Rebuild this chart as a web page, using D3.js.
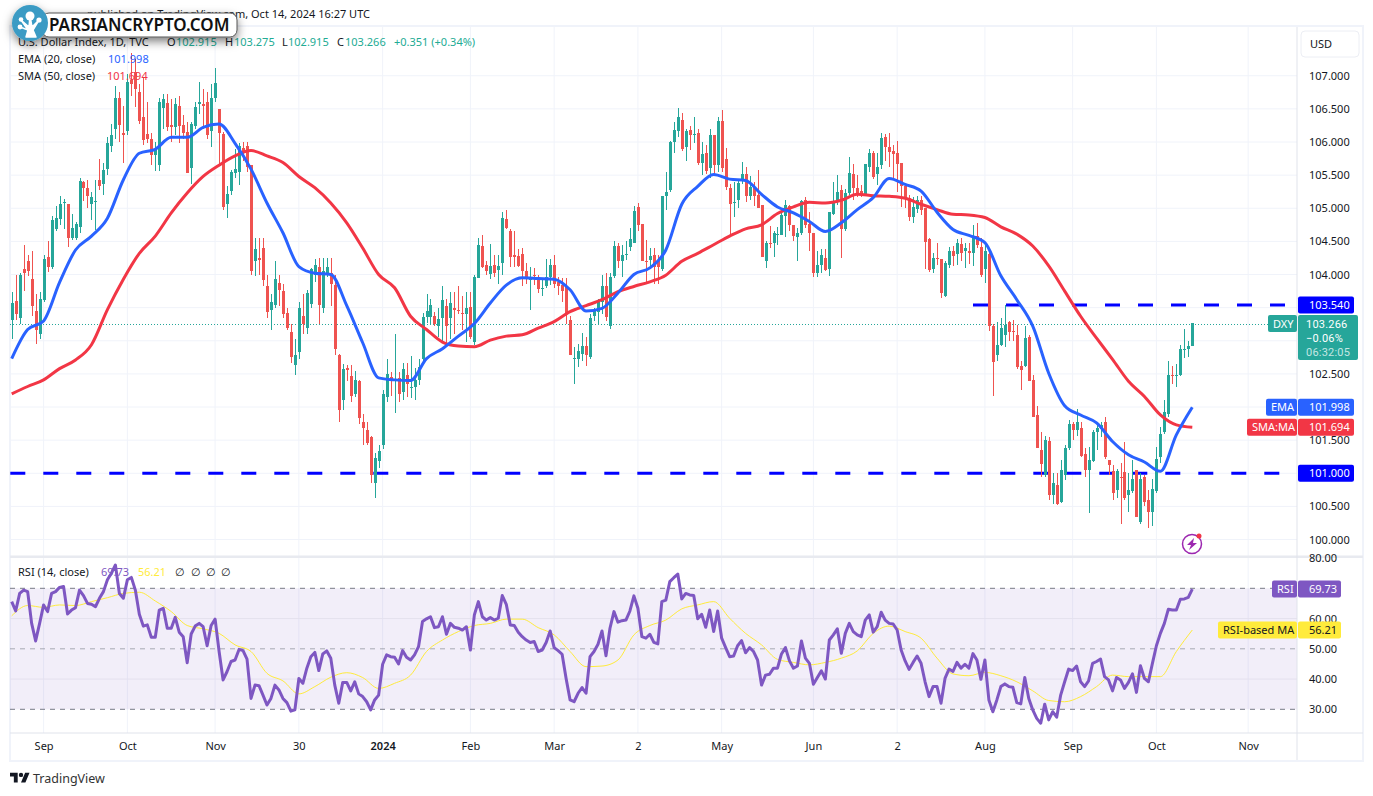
<!DOCTYPE html>
<html>
<head>
<meta charset="utf-8">
<script src="https://cdn.jsdelivr.net/npm/d3@7"></script>
<style>
  html, body { margin: 0; padding: 0; background: #fff; overflow: hidden; }
  text { font-family: "Noto Sans", sans-serif; font-size: 11px; fill: #131722; }
</style>
</head>
<body>
<div id="chart"></div>
<script>
const width = 1373;
const height = 796;

const opens = [
  103.32,103.60,103.35,104.08,104.20,103.93,103.45,103.10,103.62,104.26,
  104.11,104.68,104.84,105.09,105.06,104.55,104.55,104.72,105.39,105.30,
  105.07,105.10,105.43,105.37,105.59,105.94,106.20,106.67,106.14,106.17,
  106.93,107.06,106.76,106.37,106.12,106.04,105.80,105.66,106.52,106.59,
  106.25,106.22,106.55,106.25,106.15,105.61,106.24,106.58,106.58,106.60,
  106.16,106.66,106.50,106.12,105.06,105.26,105.53,105.54,105.91,105.94,
  105.65,104.21,104.25,104.40,103.82,103.46,103.54,103.87,103.75,103.42,
  103.14,102.64,102.83,103.37,103.19,103.55,104.00,104.12,103.50,104.00,
  104.02,103.84,102.78,102.10,102.59,102.47,102.19,102.39,101.77,101.66,
  101.55,100.86,101.19,101.42,102.15,102.45,102.41,102.44,102.22,102.48,
  102.30,102.30,102.41,102.73,103.36,103.36,103.37,103.22,103.34,103.52,
  103.34,103.50,103.47,103.42,103.41,103.51,102.98,103.95,104.43,104.15,
  104.01,104.15,104.07,104.17,104.84,104.66,104.29,104.28,104.31,104.05,
  103.91,103.99,103.96,103.78,103.83,103.96,104.14,103.89,103.84,103.82,
  103.31,102.73,102.72,102.80,102.92,102.75,103.37,103.44,103.58,103.82,
  103.22,103.98,104.43,104.21,104.30,104.42,104.48,105.02,104.76,104.21,
  104.22,104.29,104.21,104.08,105.18,105.27,106.00,106.17,106.33,105.92,
  106.18,106.11,106.13,105.68,105.83,105.61,106.10,105.66,106.31,105.74,
  105.31,105.08,105.13,105.41,105.52,105.19,105.31,105.20,105.05,104.20,
  104.48,104.48,104.60,104.60,104.89,105.04,104.75,104.56,104.63,105.13,
  104.77,104.63,104.03,104.15,104.25,104.09,104.92,105.10,105.28,104.68,
  105.23,105.52,105.30,105.26,105.21,105.63,105.83,105.51,105.66,106.07,
  105.93,105.86,105.84,105.68,105.33,105.16,104.87,104.99,105.12,105.00,
  104.53,104.08,104.25,104.23,103.68,104.15,104.36,104.31,104.46,104.35,
  104.36,104.32,104.58,104.42,104.08,104.31,103.23,102.78,102.94,103.08,
  103.28,103.15,103.09,102.62,102.62,103.06,102.41,101.88,101.35,100.97,
  101.48,100.67,100.82,100.56,100.98,101.38,101.75,101.66,101.68,101.29,
  101.05,101.19,101.63,101.67,101.77,101.20,101.03,100.75,100.94,101.02,
  100.67,100.73,101.05,100.27,100.95,100.60,100.42,100.73,101.24,101.63,
  101.90,102.48,102.47,102.48,102.87,102.87,102.915
];
const highs = [
  103.74,104.00,104.03,104.45,104.30,104.35,103.70,103.74,104.30,104.50,
  104.88,105.03,105.18,105.14,105.06,104.92,104.80,105.45,105.41,105.43,
  105.24,105.43,105.74,105.68,106.07,106.27,106.84,106.76,106.55,107.02,
  107.35,107.25,106.88,106.98,106.60,106.14,106.00,106.66,106.72,106.72,
  106.65,106.66,106.70,106.40,106.30,106.30,106.60,106.91,106.80,106.75,
  106.87,107.11,106.50,106.15,105.33,105.57,105.90,105.98,106.00,106.00,
  105.66,104.55,104.55,104.55,104.00,103.70,104.20,104.00,103.85,103.50,
  103.26,103.03,103.58,103.70,103.77,104.10,104.23,104.25,104.25,104.25,
  104.25,104.00,102.80,102.65,102.63,102.64,102.54,102.41,101.90,101.77,
  101.56,101.30,101.43,102.25,102.72,102.53,103.10,102.53,102.66,102.66,
  102.77,102.59,102.72,103.42,103.70,103.63,103.44,103.50,103.82,103.63,
  103.73,103.73,103.83,103.67,103.74,103.74,104.00,104.55,104.60,104.20,
  104.46,104.30,104.30,104.95,104.97,104.68,104.65,104.38,104.40,104.17,
  104.12,104.10,103.99,103.93,104.24,104.24,104.30,103.96,103.95,103.94,
  103.37,102.91,102.95,103.12,103.05,103.40,103.50,103.63,104.00,104.03,
  104.02,104.50,104.47,104.45,104.50,104.70,105.03,105.08,104.76,104.52,
  104.40,104.40,104.30,105.18,105.55,106.02,106.30,106.52,106.44,106.20,
  106.24,106.38,106.20,106.00,105.96,106.20,106.10,106.37,106.49,105.91,
  105.37,105.40,105.43,105.70,105.63,105.48,105.40,105.58,105.05,104.50,
  104.73,104.65,104.72,105.00,105.13,105.05,104.75,104.70,105.13,105.17,
  104.95,104.63,104.35,104.38,104.38,104.95,105.40,105.50,105.35,105.29,
  105.77,105.67,105.50,105.35,105.67,105.89,105.87,105.84,106.14,106.12,
  106.14,105.96,106.02,105.68,105.33,105.20,105.17,105.18,105.18,105.00,
  104.55,104.33,104.48,104.23,104.20,104.42,104.43,104.53,104.55,104.48,
  104.47,104.75,104.78,104.55,104.45,104.32,103.25,103.28,103.34,103.54,
  103.30,103.31,103.24,102.70,103.22,103.08,102.48,102.02,101.62,101.57,
  101.55,101.00,101.00,101.20,101.43,101.80,101.78,101.97,101.78,101.38,
  101.40,101.65,101.75,101.78,101.85,101.20,101.12,101.06,101.15,101.47,
  101.00,101.20,101.05,101.00,100.97,100.75,100.92,101.40,101.70,102.10,
  102.70,102.62,102.65,102.94,103.18,103.00,103.275
];
const lows = [
  103.02,103.31,103.26,103.75,103.98,103.37,102.95,103.02,103.58,104.04,
  104.09,104.65,104.75,104.68,104.42,104.52,104.52,104.62,105.11,105.00,
  104.83,104.67,105.28,105.20,105.50,105.85,106.05,106.00,105.68,106.10,
  106.70,106.53,106.27,105.96,105.99,105.66,105.56,105.56,106.20,106.17,
  106.00,106.10,105.98,106.05,105.53,105.37,106.20,106.42,106.20,106.05,
  105.93,106.60,105.66,104.98,104.85,105.20,105.45,105.35,105.72,105.55,
  103.99,103.98,104.00,103.83,103.35,103.16,103.49,103.52,103.35,103.17,
  102.67,102.49,102.73,103.10,103.10,103.50,103.89,103.25,103.42,103.97,
  103.52,102.79,101.78,101.96,102.39,102.08,102.15,101.75,101.43,101.43,
  100.85,100.63,101.08,101.36,102.08,102.16,101.91,102.08,102.11,102.15,
  102.14,102.10,102.33,102.70,103.27,103.25,103.22,103.05,103.00,102.92,
  103.03,103.10,103.41,103.17,102.98,103.02,102.94,103.94,104.10,103.99,
  103.93,103.97,103.85,104.00,104.68,104.12,104.12,104.12,103.83,103.86,
  103.47,103.84,103.72,103.68,103.80,103.84,103.80,103.69,103.59,103.25,
  102.78,102.35,102.60,102.70,102.62,102.73,103.30,103.25,103.40,103.30,
  103.18,103.95,104.10,103.96,104.22,104.35,104.47,104.65,104.20,103.87,
  104.10,103.85,103.85,104.05,104.98,105.25,105.84,106.07,105.87,105.72,
  105.88,105.99,105.65,105.50,105.52,105.45,105.50,105.55,105.55,105.28,
  104.58,104.87,105.00,105.37,105.10,105.13,105.03,105.00,104.27,104.10,
  104.40,104.27,104.45,104.60,104.57,104.66,104.50,104.20,104.60,104.70,
  104.36,103.97,103.97,104.02,104.05,103.98,104.90,105.05,104.25,104.65,
  105.20,105.12,105.17,105.17,105.20,105.55,105.44,105.35,105.60,105.72,
  105.62,105.45,105.24,105.02,105.00,104.81,104.78,104.93,104.90,104.08,
  104.04,104.03,104.15,103.65,103.66,104.10,104.13,104.15,104.20,104.10,
  104.16,104.13,104.40,103.97,103.87,103.15,102.17,102.70,102.92,102.90,
  103.00,103.00,102.58,102.25,102.60,102.40,101.85,101.38,100.94,100.95,
  100.60,100.53,100.52,100.55,100.90,101.35,101.50,101.57,101.24,100.95,
  100.40,101.17,101.35,101.55,101.22,100.98,100.60,100.62,100.23,100.60,
  100.42,100.70,100.34,100.24,100.50,100.17,100.20,100.70,101.16,101.60,
  101.85,102.35,102.30,102.47,102.74,102.75,102.915
];
const closes = [
  103.57,103.41,103.99,104.02,104.05,103.53,103.16,103.63,104.23,104.11,
  104.82,104.85,105.06,105.10,104.55,104.70,104.77,105.41,105.31,105.19,
  105.17,105.11,105.34,105.58,105.99,106.10,106.67,106.25,106.10,106.90,
  106.88,106.80,106.32,106.03,106.04,105.81,105.88,106.60,106.65,106.23,
  106.23,106.57,106.24,106.14,105.53,106.27,106.53,106.60,106.55,106.10,
  106.66,106.89,106.13,105.02,105.22,105.55,105.60,105.94,105.84,105.62,
  104.05,104.38,104.22,103.91,103.43,103.58,103.93,103.77,103.40,103.19,
  102.75,102.78,103.50,103.26,103.72,104.08,104.15,103.54,104.05,104.12,
  103.85,102.87,101.95,102.57,102.56,102.16,102.41,101.84,101.69,101.45,
  100.98,101.23,101.33,102.20,102.50,102.41,102.43,102.20,102.58,102.35,
  102.30,102.41,102.60,103.36,103.45,103.54,103.26,103.33,103.62,103.22,
  103.57,103.46,103.46,103.40,103.50,103.06,103.97,104.45,104.12,104.05,
  104.13,104.03,104.13,104.85,104.70,104.27,104.27,104.13,104.05,103.96,
  103.97,103.98,103.78,103.79,103.97,104.15,103.86,103.82,103.75,103.41,
  102.78,102.74,102.84,102.92,102.78,103.35,103.46,103.59,103.83,103.36,
  103.96,104.43,104.21,104.29,104.31,104.54,104.96,104.74,104.21,104.19,
  104.28,104.12,104.12,105.18,105.25,106.00,106.18,106.37,105.90,106.17,
  106.10,106.12,105.68,105.82,105.56,106.10,105.66,106.31,105.61,105.32,
  105.06,105.10,105.38,105.51,105.19,105.32,105.19,105.00,104.27,104.48,
  104.47,104.63,104.61,104.90,105.05,104.74,104.58,104.63,105.11,104.74,
  104.63,104.03,104.15,104.30,104.07,104.94,105.10,105.25,104.68,105.23,
  105.53,105.31,105.23,105.21,105.67,105.84,105.47,105.63,106.06,105.93,
  105.85,105.82,105.67,105.34,105.16,104.87,105.02,105.12,104.98,104.49,
  104.07,104.25,104.24,103.72,104.18,104.36,104.28,104.47,104.33,104.40,
  104.33,104.58,104.44,104.00,104.35,103.22,102.68,102.94,103.19,103.24,
  103.14,103.13,102.60,102.56,103.04,102.40,101.85,101.38,101.14,101.51,
  100.67,100.86,100.54,101.05,101.38,101.75,101.65,101.78,101.26,101.05,
  101.20,101.62,101.68,101.73,101.24,101.12,100.70,101.03,100.93,100.63,
  100.75,100.91,100.34,100.92,100.57,100.42,100.76,101.21,101.60,101.93,
  102.48,102.47,102.48,102.88,102.88,102.92,103.266
];

// moving averages at every 4th candle
const maStep = 4;
const ema20 = [
  102.73,103.17,103.30,103.88,104.37,104.58,104.85,105.43,105.83,105.89,
  106.07,106.07,106.22,106.27,105.98,105.59,105.08,104.63,104.12,104.02,
  104.00,103.53,102.97,102.44,102.41,102.40,102.73,
  102.88,103.07,103.26,103.57,103.84,103.95,103.94,103.93,103.77,103.45,
  103.49,103.72,104.00,104.10,104.37,105.06,105.33,105.51,105.44,105.42,
  105.21,105.02,104.93,104.80,104.65,104.78,
  104.98,105.16,105.45,105.36,105.26,104.94,104.68,104.59,104.48,103.98,
  103.62,103.22,102.51,102.02,101.88,101.76,101.48,101.28,101.17,101.03,
  101.58,101.998
];
const sma50 = [
  102.20,102.31,102.41,102.58,102.71,102.94,103.47,103.93,104.32,104.58,
  104.93,105.23,105.48,105.65,105.79,105.87,105.79,105.69,105.48,105.31,
  105.08,104.78,104.40,104.00,103.80,103.37,103.17,
  102.98,102.92,102.91,103.01,103.07,103.09,103.19,103.29,103.44,103.53,
  103.62,103.74,103.82,103.89,103.99,104.20,104.32,104.45,104.58,104.69,
  104.75,104.92,105.02,105.09,105.08,105.12,
  105.21,105.19,105.18,105.15,105.06,104.98,104.91,104.90,104.86,104.72,
  104.61,104.43,104.13,103.75,103.37,103.04,102.72,102.39,102.16,101.88,
  101.73,101.694
];

const rsi14 = [
  65.6,62.5,68.3,69.4,68.9,58.4,52.6,58.4,64.5,62.3,
  68.3,68.9,70.3,70.6,61.5,62.8,63.6,69.4,67.6,65.0,
  64.7,63.9,66.7,68.9,72.8,75.0,77.7,68.3,66.7,72.8,
  73.6,69.4,61.4,57.5,57.9,53.8,53.8,62.8,63.4,56.8,
  56.8,60.4,55.5,54.0,45.4,54.9,57.5,58.4,57.3,51.0,
  57.7,59.8,49.1,39.7,42.5,45.8,46.3,49.8,49.4,46.6,
  33.6,38.0,37.8,34.7,31.4,33.6,38.0,36.4,33.6,32.2,
  29.4,29.8,40.2,38.6,43.6,47.4,48.8,42.8,48.3,49.3,
  46.9,38.0,32.0,38.9,38.9,36.1,39.1,35.1,34.2,32.5,
  29.8,33.1,34.7,44.9,48.0,47.4,47.2,45.0,49.4,47.2,
  46.3,48.0,50.7,59.0,59.9,60.6,
  57.0,57.3,60.6,54.8,58.4,57.1,56.8,56.2,57.3,49.6,
  61.2,65.6,60.6,59.5,60.3,59.5,60.1,67.6,64.7,57.9,
  57.7,55.5,54.0,52.9,52.1,52.4,49.1,49.6,52.1,55.9,
  50.4,49.4,48.2,40.2,33.1,32.5,35.3,37.2,35.3,47.4,
  49.1,51.5,55.9,47.7,56.8,62.3,58.8,59.3,59.5,62.5,
  67.5,63.4,54.0,53.5,54.8,52.1,51.6,65.6,66.1,72.2,
  73.5,74.7,66.5,68.3,67.8,67.6,59.9,61.4,57.1,62.8,
  55.7,62.5,53.5,50.4,47.4,47.6,51.0,52.7,48.7,50.4,
  49.1,46.3,38.0,41.3,41.6,43.6,43.6,48.3,50.4,46.0,
  43.6,44.3,52.6,46.9,45.2,38.3,40.5,42.7,40.0,52.9,
  54.6,56.6,48.5,55.1,58.4,
  55.7,54.6,54.0,59.5,61.2,55.5,57.3,62.1,59.5,58.4,
  58.2,56.2,49.6,46.0,43.2,45.5,47.6,45.2,39.1,34.2,
  37.5,37.5,32.0,40.2,43.3,42.5,45.5,43.6,44.9,43.6,
  48.4,46.3,39.9,46.3,33.1,29.2,33.1,37.5,38.4,37.5,
  37.3,32.2,31.8,40.5,33.6,29.8,27.0,25.4,31.7,26.5,
  29.2,27.4,34.7,39.1,43.3,42.8,44.3,39.1,37.5,39.4,
  45.2,45.8,46.6,40.8,39.7,36.1,40.5,39.7,36.9,38.9,
  41.7,35.6,44.4,40.2,39.1,45.2,51.0,55.1,58.4,63.1,
  62.8,62.8,66.4,66.5,67.0,69.73
];
const rsiMa = [
  60.9,64.3,63.7,64.5,64.3,65.6,66.9,68.3,68.7,65.8,
  62.3,57.7,56.6,55.1,51.3,49.1,41.9,39.4,35.1,37.5,
  40.6,42.1,40.5,36.9,38.6,41.3,49.1,
  52.9,55.7,57.7,58.4,59.8,59.8,57.0,54.6,49.1,44.1,
  44.3,46.3,54.6,57.7,59.5,63.2,64.5,65.6,60.1,55.1,
  51.3,46.5,45.5,44.7,45.5,46.9,
  49.3,55.1,57.5,55.7,53.5,46.9,41.7,41.1,42.2,41.1,
  39.1,36.1,32.9,32.5,34.2,37.5,41.3,40.8,40.8,40.8,
  49.1,56.21
];

const priceTicks = [100, 100.5, 101, 101.5, 102, 102.5, 103, 103.5, 104, 104.5, 105, 105.5, 106, 106.5, 107];
const rsiTicks = [30, 40, 50, 60, 80];
const rsiGrid = [40, 60];
const timeTickIndex = [8, 29, 51, 72, 93, 115, 136, 157, 178, 201, 222, 244, 266, 287, 310];
const timeTickLabels = ["Sep", "Oct", "Nov", "30", "2024", "Feb", "Mar", "2", "May", "Jun", "2", "Aug", "Sep", "Oct", "Nov"];

const green = "#26a69a";
const red = "#ef5350";
const plot = {left: 10, right: 1297, top: 27, paneBottom: 556, rsiTop: 558, bottom: 733};

const svg = d3.select("#chart").append("svg")
    .attr("width", width)
    .attr("height", height)
    .style("display", "block");

const x = d3.scaleLinear().domain([0, closes.length - 1]).range([11.7, 1192.3]);
const yPrice = d3.scaleLinear().domain([101, 103.54]).range([473.3, 305]);
const yRsi = d3.scaleLinear().domain([30, 70]).range([709.3, 588.3]);

// frame
svg.append("rect")
    .attr("x", 10).attr("y", 26)
    .attr("width", 1353).attr("height", 735)
    .attr("fill", "none")
    .attr("stroke", "#f0f3fa")
    .attr("stroke-width", 2);

// grid
const gridColor = "#f0f3fa";
svg.append("g").selectAll("line").data(priceTicks).join("line")
    .attr("x1", plot.left).attr("x2", plot.right)
    .attr("y1", d => yPrice(d)).attr("y2", d => yPrice(d))
    .attr("stroke", gridColor);
svg.append("g").selectAll("line").data(timeTickIndex).join("line")
    .attr("x1", d => x(d)).attr("x2", d => x(d))
    .attr("y1", plot.top).attr("y2", plot.bottom)
    .attr("stroke", gridColor);

// RSI band and level lines
svg.append("rect")
    .attr("x", plot.left).attr("width", plot.right - plot.left)
    .attr("y", yRsi(70)).attr("height", yRsi(30) - yRsi(70))
    .attr("fill", "#7e57c2").attr("fill-opacity", 0.1);
svg.append("g").selectAll("line").data(rsiGrid).join("line")
    .attr("x1", plot.left).attr("x2", plot.right)
    .attr("y1", d => yRsi(d)).attr("y2", d => yRsi(d))
    .attr("stroke", "#e4e1ee");
svg.append("g").selectAll("line").data([70, 50, 30]).join("line")
    .attr("x1", plot.left).attr("x2", plot.right)
    .attr("y1", d => yRsi(d)).attr("y2", d => yRsi(d))
    .attr("stroke", "#787b86")
    .attr("stroke-opacity", d => d == 50 ? 0.6 : 1)
    .attr("stroke-dasharray", "5 5");

// pane separators and axis lines
svg.append("rect").attr("x", 10).attr("y", 555.5).attr("width", 1353).attr("height", 2.5).attr("fill", "#e8eaf0");
svg.append("line").attr("x1", plot.left).attr("x2", 1363).attr("y1", plot.bottom).attr("y2", plot.bottom).attr("stroke", "#e0e3eb");
svg.append("line").attr("x1", plot.right).attr("x2", plot.right).attr("y1", plot.top).attr("y2", 760).attr("stroke", "#e0e3eb");

// horizontal levels drawn on the chart
const levels = [{price: 101, from: 10.3}, {price: 103.54, from: 973}];
svg.append("g").selectAll("line").data(levels).join("line")
    .attr("x1", d => d.from).attr("x2", plot.right - 12)
    .attr("y1", d => yPrice(d.price)).attr("y2", d => yPrice(d.price))
    .attr("stroke", "#0000ff")
    .attr("stroke-width", 3)
    .attr("stroke-dasharray", "15 18");

// last price dotted line
svg.append("line")
    .attr("x1", plot.left).attr("x2", 1268)
    .attr("y1", yPrice(closes[closes.length - 1]) + 1).attr("y2", yPrice(closes[closes.length - 1]) + 1)
    .attr("stroke", green)
    .attr("shape-rendering", "crispEdges")
    .attr("stroke-dasharray", "1 2");

// candles
const candle = svg.append("g").attr("shape-rendering", "crispEdges");
const color = i => closes[i] >= opens[i] ? green : red;
candle.selectAll("line").data(d3.range(closes.length)).join("line")
    .attr("x1", i => Math.round(x(i)) + 0.5).attr("x2", i => Math.round(x(i)) + 0.5)
    .attr("y1", i => yPrice(highs[i])).attr("y2", i => yPrice(lows[i]))
    .attr("stroke", color);
candle.selectAll("rect").data(d3.range(closes.length)).join("rect")
    .attr("x", i => Math.round(x(i)) - 1)
    .attr("width", 3)
    .attr("y", i => yPrice(Math.max(opens[i], closes[i])))
    .attr("height", i => Math.max(1, Math.abs(yPrice(opens[i]) - yPrice(closes[i]))))
    .attr("fill", color);

// moving averages
const maLine = d3.line()
    .x((d, k) => x(k * maStep))
    .y(d => yPrice(d))
    .curve(d3.curveMonotoneX);
svg.append("path").attr("d", maLine(sma50)).attr("fill", "none").attr("stroke", "#f23645").attr("stroke-width", 3);
svg.append("path").attr("d", maLine(ema20)).attr("fill", "none").attr("stroke", "#2962ff").attr("stroke-width", 3);

// RSI lines
const rsiMaLine = d3.line()
    .x((d, k) => x(k * maStep))
    .y(d => yRsi(d))
    .curve(d3.curveMonotoneX);
const rsiLine = d3.line()
    .x((d, k) => x(k))
    .y(d => yRsi(d));
svg.append("path").attr("d", rsiMaLine(rsiMa)).attr("fill", "none").attr("stroke", "#ffeb3b").attr("stroke-width", 1);
svg.append("path").attr("d", rsiLine(rsi14)).attr("fill", "none").attr("stroke", "#7e57c2").attr("stroke-width", 3).attr("stroke-linejoin", "round");

// axes
function styleAxis(g) {
    g.select(".domain").remove();
    g.selectAll(".tick line").remove();
    g.selectAll("text").attr("fill", null);
}
svg.append("g")
    .attr("transform", `translate(${plot.right},0)`)
    .call(d3.axisRight(yPrice).tickValues(priceTicks).tickFormat(d3.format(".3f")).tickSize(0).tickPadding(12))
    .call(styleAxis);
svg.append("g")
    .attr("transform", `translate(${plot.right},0)`)
    .call(d3.axisRight(yRsi).tickValues(rsiTicks).tickFormat(d3.format(".2f")).tickSize(0).tickPadding(12))
    .call(styleAxis);
const timeAxis = d3.axisBottom(x)
    .tickValues(timeTickIndex)
    .tickFormat((d, k) => timeTickLabels[k])
    .tickSize(0).tickPadding(9);
svg.append("g")
    .attr("transform", `translate(0,${plot.bottom})`)
    .call(timeAxis)
    .call(styleAxis)
    .selectAll("text")
    .attr("font-weight", (d, k) => timeTickLabels[k] == "2024" ? 600 : null);

// price tags on the right
function tag(yc, txt, bg, w, fg) {
    svg.append("rect").attr("x", plot.right + 1).attr("y", yc - 8.5).attr("width", w).attr("height", 17).attr("rx", 2).attr("fill", bg);
    svg.append("text").attr("x", plot.right + 12).attr("y", yc + 4).text(txt).style("fill", fg || "#fff");
}
function sideTag(yc, txt, bg, w, fg) {
    svg.append("rect").attr("x", plot.right - w).attr("y", yc - 8.5).attr("width", w).attr("height", 17).attr("rx", 2).attr("fill", bg);
    svg.append("text").attr("x", plot.right - w + 5).attr("y", yc + 4).text(txt).style("fill", fg || "#fff");
}
tag(yPrice(103.54), "103.540", "#0000ff", 56);
tag(yPrice(101), "101.000", "#0000ff", 56);
svg.append("rect").attr("x", plot.right + 1).attr("y", 315).attr("width", 60).attr("height", 45).attr("rx", 2).attr("fill", green);
[["103.266", 328, "#fff"], ["−0.06%", 342, "#fff"], ["06:32:05", 356, "#c4e7e3"]].forEach(r => {
    svg.append("text").attr("x", plot.right + 9).attr("y", r[1]).text(r[0])
        .style("fill", r[2]).style("font-family", "Roboto").style("letter-spacing", "0.2px");
});
sideTag(323.5, "DXY", green, 29);
tag(yPrice(101.998), "101.998", "#2962ff", 56);
sideTag(yPrice(101.998), "EMA", "#2962ff", 31);
tag(yPrice(101.694), "101.694", "#f23645", 56);
sideTag(yPrice(101.694), "SMA:MA", "#f23645", 50);
tag(yRsi(69.73), "69.73", "#7e57c2", 43);
sideTag(yRsi(69.73), "RSI", "#7e57c2", 25);
tag(yRsi(56.21), "56.21", "#ffeb3b", 43, "#131722");
sideTag(yRsi(56.21), "RSI-based MA", "#ffeb3b", 79, "#131722");

svg.append("rect").attr("x", 1301).attr("y", 31).attr("width", 58).attr("height", 26).attr("rx", 4)
    .attr("fill", "#fff").attr("stroke", "#eceef4");
svg.append("text").attr("x", 1310).attr("y", 48).text("USD");

// legend rows
function legendRow(yPos, parts) {
    parts.forEach(p => {
        svg.append("text").attr("x", p[0]).attr("y", yPos).text(p[1]).style("fill", p[2] || "#131722");
    });
}
const teal = "#22ab94";
svg.append("text").attr("x", 370).attr("y", 18).attr("text-anchor", "end").text("published on TradingView.com, Oct 14, 2024 16:27 UTC");
legendRow(46, [[18, "U.S. Dollar Index, 1D, TVC"], [167, "O"], [176, "102.915", teal], [225, "H"], [234, "103.275", teal], [282, "L"], [288, "102.915", teal], [337, "C"], [345, "103.266", teal], [394, "+0.351 (+0.34%)", teal]]);
legendRow(63, [[18, "EMA (20, close)"], [108, "101.998", "#2962ff"]]);
legendRow(80, [[18, "SMA (50, close)"], [107, "101.694", "#f23645"]]);
legendRow(576, [[18, "RSI (14, close)"], [101, "69.73", "#7e57c2"], [138, "56.21", "#ffeb3b"], [175, "∅"], [191, "∅"], [206, "∅"], [221, "∅"]]);

// watermark
const defs = svg.append("defs");
const shadow = defs.append("filter").attr("id", "wm-shadow").attr("x", "-20%").attr("y", "-60%").attr("width", "140%").attr("height", "240%");
shadow.append("feDropShadow").attr("dx", 0).attr("dy", 4).attr("stdDeviation", 5).attr("flood-color", "#000").attr("flood-opacity", 0.5);
const wm = svg.append("g").attr("filter", "url(#wm-shadow)");
wm.append("rect").attr("x", 42).attr("y", 13).attr("width", 195).attr("height", 24).attr("rx", 7).attr("fill", "#fff").attr("stroke", "#555");
wm.append("circle").attr("cx", 30).attr("cy", 23).attr("r", 18).attr("fill", "#3a9bc4");
wm.append("path").attr("d", "M26 37 L28 30 L21 20 L29 27 L30 16 L32 27 L39 20 L33 30 L36 37 Z M28 30 L20 27")
    .attr("stroke", "#fff").attr("stroke-width", 1.5).attr("stroke-linejoin", "round").attr("fill", "#fff");
[[30, 16, 4.5], [21, 19.5, 2.3], [39, 20, 2.6], [20, 27, 2.4]].forEach(c => {
    wm.append("circle").attr("cx", c[0]).attr("cy", c[1]).attr("r", c[2]).attr("fill", "#fff");
});
svg.append("text").attr("x", 49).attr("y", 31).text("PARSIANCRYPTO.COM").style("font-size", "17px").style("font-weight", 600).style("fill", "#111");

// lightning icon
svg.append("circle").attr("cx", 1192).attr("cy", 544).attr("r", 9.5).attr("fill", "#fff").attr("stroke", "#9c27b0").attr("stroke-width", 1.5);
svg.append("path").attr("d", "M1194 538 L1187 545 L1191 545 L1189 550 L1197 543 L1193 543 Z").attr("fill", "#9c27b0");
svg.append("circle").attr("cx", 1199).attr("cy", 536).attr("r", 2.5).attr("fill", "#f23645");

// footer
const tvLogo = svg.append("g").attr("transform", "translate(10,770.5) scale(0.55)").attr("fill", "#131722");
tvLogo.append("path").attr("d", "M14 22H7V11H0V4h14v18zM28 22h-8l7.5-18h8L28 22z");
tvLogo.append("circle").attr("cx", 20).attr("cy", 8).attr("r", 4);
svg.append("text").attr("x", 33).attr("y", 783).text("TradingView").style("font-size", "12.5px").style("fill", "#333");
</script>
</body>
</html>
